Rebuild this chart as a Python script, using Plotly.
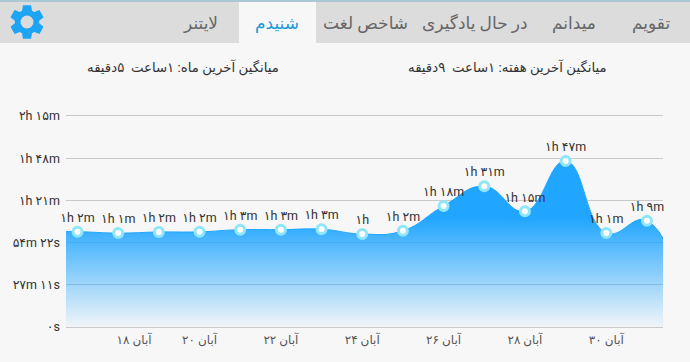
import math
import plotly.graph_objects as go

W, H = 690, 362
PLOT_L, PLOT_R, PLOT_T, PLOT_B = 66, 663, 114.4, 328.6

days = [16, 17, 18, 19, 20, 21, 22, 23, 24, 25, 26, 27, 28, 29, 30, 31, 32]
minutes = [61.5, 61.4, 60.5, 61.2, 61.3, 62.7, 62.7, 63.0, 59.9, 62.0, 78.0, 90.7, 74.5, 106.9, 60.5, 68.5, 5.0]
labels = ["", "۱h ۲m", "۱h ۱m", "۱h ۲m", "۱h ۲m", "۱h ۳m", "۱h ۳m", "۱h ۳m", "۱h", "۱h ۲m",
          "۱h ۱۸m", "۱h ۳۱m", "۱h ۱۵m", "۱h ۴۷m", "۱h ۱m", "۱h ۹m", ""]
ytick_vals = [0, 27.18, 54.37, 81.55, 108.73, 135.92]
ytick_text = ["۰s", "۲۷m ۱۱s", "۵۴m ۲۲s", "۱h ۲۱m", "۱h ۴۸m", "۲h ۱۵m"]
xtick_vals = [18.39, 20, 22, 24, 26, 28, 30]
xtick_text = ["۱۸ آبان", "۲۰ آبان", "۲۲ آبان", "۲۴ آبان", "۲۶ آبان", "۲۸ آبان", "۳۰ آبان"]
tabs = ["لایتنر", "شنیدم", "شاخص لغت", "در حال یادگیری", "میدانم", "تقویم"]
tab_x = [200, 277, 365, 475, 574, 651]
summary = ["میانگین آخرین ماه: ۱ساعت  ۵دقیقه", "میانگین آخرین هفته: ۱ساعت  ۹دقیقه"]
summary_x = [183, 507]

FONT = "Roboto, 'Noto Sans', 'DejaVu Sans', sans-serif"
TEXT = "#333333"
BLUE = "33,166,255"

fx = lambda p: p / W
fy = lambda p: 1 - p / H


def gear_path(cx, cy):
    pts = []
    teeth = 6
    for i in range(teeth):
        a = 2 * math.pi * i / teeth - math.pi / 2
        for da, r in [(-0.42, 12.2), (-0.24, 17.2), (0.24, 17.2), (0.42, 12.2)]:
            pts.append((cx + r * math.cos(a + da), cy + r * math.sin(a + da)))
    d = "M" + " L".join(f"{fx(x):.5f},{fy(y):.5f}" for x, y in pts) + " Z"
    return d


fig = go.Figure()
fig.add_trace(go.Scatter(
    x=days, y=minutes, mode="lines",
    line=dict(shape="spline", smoothing=1.3, color=f"rgb({BLUE})", width=1),
    fill="tozeroy",
    fillgradient=dict(type="vertical", start=70, stop=0,
                      colorscale=[[0, f"rgba({BLUE},1)"], [1, f"rgba({BLUE},0.03)"]]),
    hoverinfo="skip", showlegend=False,
))
fig.add_trace(go.Scatter(
    x=days[1:-1], y=minutes[1:-1], mode="markers+text",
    text=labels[1:-1], textposition="top center",
    textfont=dict(family=FONT, size=12.5, color=TEXT),
    marker=dict(size=9, color="white", line=dict(color="#8fe6f8", width=3)),
    cliponaxis=False, hoverinfo="skip", showlegend=False,
))

shapes = [
    dict(type="rect", xref="paper", yref="paper", x0=0, x1=1, y0=fy(43), y1=fy(0),
         fillcolor="#dcdcdc", line_width=0, layer="below"),
    dict(type="rect", xref="paper", yref="paper", x0=fx(239), x1=fx(316), y0=fy(43), y1=fy(0),
         fillcolor="#f7f7f7", line_width=0, layer="below"),
    dict(type="rect", xref="paper", yref="paper", x0=0, x1=1, y0=fy(2), y1=fy(0),
         fillcolor="#a9c8d4", line_width=0, layer="below"),
    dict(type="path", xref="paper", yref="paper", path=gear_path(27, 22),
         fillcolor="#1ea4f4", line_width=0),
    dict(type="circle", xref="paper", yref="paper", x0=fx(20.5), x1=fx(33.5), y0=fy(28.5), y1=fy(15.5),
         fillcolor="#dcdcdc", line_width=0),
]
annotations = []
for t, x in zip(tabs, tab_x):
    active = t == "شنیدم"
    annotations.append(dict(text=t, xref="paper", yref="paper", x=fx(x), y=fy(23), showarrow=False,
                            xanchor="center", yanchor="middle",
                            font=dict(family=FONT, size=17, color="#1a9bd7" if active else "#666666")))
for t, x in zip(summary, summary_x):
    annotations.append(dict(text=t, xref="paper", yref="paper", x=fx(x), y=fy(67), showarrow=False,
                            xanchor="center", yanchor="middle",
                            font=dict(family=FONT, size=13.3, color=TEXT)))

x_per_px = (days[2] - days[1]) / 40.6
fig.update_layout(
    width=W, height=H,
    margin=dict(l=0, r=0, t=0, b=0, autoexpand=False),
    paper_bgcolor="#f7f7f7", plot_bgcolor="#f7f7f7",
    font=dict(family=FONT, size=13, color=TEXT),
    showlegend=False,
    shapes=shapes, annotations=annotations,
    xaxis=dict(domain=[fx(PLOT_L), fx(PLOT_R)],
               range=[17 - (77.5 - PLOT_L) * x_per_px, 31 + (PLOT_R - 647) * x_per_px],
               tickmode="array", tickvals=xtick_vals, ticktext=xtick_text,
               showgrid=False, zeroline=False, showline=False, ticks="",
               ticklabelstandoff=2,
               tickfont=dict(family=FONT, size=12, color="#555555")),
    yaxis=dict(domain=[fy(PLOT_B), fy(PLOT_T)], range=[-1, 136.9],
               tickmode="array", tickvals=ytick_vals, ticktext=ytick_text,
               showgrid=True, gridcolor="#c9c9c9", gridwidth=1, zeroline=False,
               showline=False, ticks="", ticklen=0, ticklabelstandoff=5,
               tickfont=dict(family=FONT, size=12.5, color=TEXT)),
)
fig.write_html("out.html", config={"displayModeBar": False},
               post_script="document.body.style.margin='0';document.documentElement.style.overflow='hidden';")
